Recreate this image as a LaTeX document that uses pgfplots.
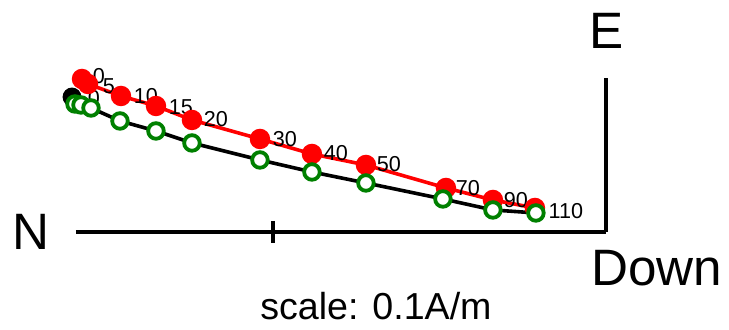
\documentclass[border=0pt]{standalone}
\usepackage{pgfplots}
\pgfplotsset{compat=1.18}
\usepackage{fontspec}
\setmainfont{Liberation Sans}
\definecolor{dgreen}{RGB}{0,128,0}
\begin{document}
\begin{tikzpicture}
\begin{axis}[x=0.5pt,y=0.5pt,y dir=reverse,xmin=0,xmax=729,ymin=0,ymax=330,
  hide axis,clip=false,scale only axis]
\path (axis cs:0,0) rectangle (axis cs:729,330);
% axes
\addplot[black,line width=1.8pt] coordinates {(76,232) (606,232)};
\addplot[black,line width=1.8pt] coordinates {(606,232) (606,78)};
\addplot[black,line width=1.8pt] coordinates {(273,221) (273,243)};
% vertical projection
\addplot[black,line width=1.8pt,mark=*,mark size=3.8pt,mark options={fill=black}] coordinates {(72,97)};
\addplot[black,line width=1.8pt] coordinates {(72,97) (75,104) (81,105) (91,108) (120,121) (156,131) (192,143) (260,160) (312,172) (366,183) (443,199) (493,210) (536,213)};
% horizontal projection
\addplot[red,line width=1.8pt,mark=*,mark size=4.2pt,mark options={fill=red,draw=red}] coordinates {(82,79) (88,84) (121,96) (156,106) (192,120) (260,139) (312,154) (366,165) (446,188) (493,200) (535,208)};
\addplot[only marks,mark=*,mark size=3.9pt,mark options={draw=dgreen,fill=white,line width=1.9pt}] coordinates {(75,104) (81,105) (91,108) (120,121) (156,131) (192,143) (260,160) (312,172) (366,183) (443,199) (493,210) (536,213)};
% labels
\begin{scope}[font=\fontsize{10.8}{11}\selectfont]
\node at (axis cs:99,76) {0};
\node at (axis cs:109,86) {5};
\node at (axis cs:94,98) {0};
\node at (axis cs:146,96) {10};
\node at (axis cs:181,107) {15};
\node at (axis cs:216,119) {20};
\node at (axis cs:285,139) {30};
\node at (axis cs:336,153) {40};
\node at (axis cs:389,164) {50};
\node at (axis cs:468,188) {70};
\node at (axis cs:516,200) {90};
\node at (axis cs:566,211) {110};
\end{scope}
\node[font=\fontsize{25.6}{26}\selectfont] at (axis cs:31,232) {N};
\node[font=\fontsize{25.6}{26}\selectfont] at (axis cs:607,31) {E};
\node[font=\fontsize{25.6}{26}\selectfont] at (axis cs:657,268) {Down};
\node[font=\fontsize{18.8}{19}\selectfont] at (axis cs:376,306) {scale: 0.1A/m};
\end{axis}
\end{tikzpicture}
\end{document}
